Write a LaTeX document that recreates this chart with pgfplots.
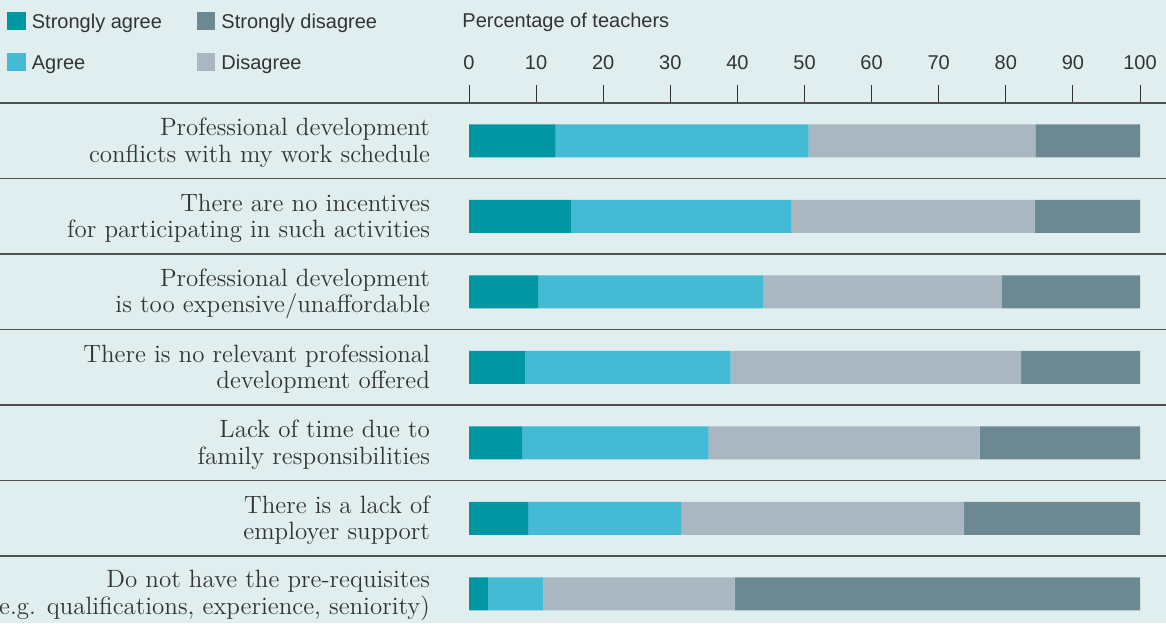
\documentclass[border=0pt]{standalone}
\usepackage{pgfplots}
\pgfplotsset{compat=1.18}
\usepackage{fontspec}
\newfontfamily\sans{Liberation Sans}
\definecolor{bg}{HTML}{E0EEF0}
\definecolor{sa}{HTML}{0097A3}
\definecolor{ag}{HTML}{44BAD4}
\definecolor{di}{HTML}{AAB7C0}
\definecolor{sd}{HTML}{6C8893}
\definecolor{txt}{HTML}{333333}
\definecolor{sep}{HTML}{505050}
\begin{document}
\begin{tikzpicture}
\path[use as bounding box] (0,0) rectangle (583pt,-311.5pt);
\clip (0,0) rectangle (583pt,-311.5pt);
\fill[bg] (0,0) rectangle (583pt,-311.5pt);
\begin{axis}[
  at={(234.5pt,-51.5pt)}, anchor=north west,
  scale only axis, width=335.5pt, height=264.25pt,
  xbar stacked, bar width=16.5pt,
  xmin=0, xmax=100, ymin=0.5, ymax=7.5, y dir=reverse,
  clip=false,
  axis x line*=top, axis y line*=left,
  axis line style={draw=none},
  xtick={0,10,...,100}, tick align=outside, major tick length=9pt,
  x tick style={color=txt, line width=0.5pt},
  ytick={1,...,7}, y tick style={draw=none},
  xticklabel style={font=\sans\fontsize{10}{12}\selectfont, text=txt, yshift=4pt},
  /pgf/number format/assume math mode=true,
  yticklabels={{Professional development\\conflicts with my work schedule},
               {There are no incentives\\for participating in such activities},
               {Professional development\\is too expensive/unaffordable},
               {There is no relevant professional\\development offered},
               {Lack of time due to\\family responsibilities},
               {There is a lack of\\employer support},
               {Do not have the pre-requisites\\(e.g. qualifications, experience, seniority)}},
  yticklabel style={align=right, font=\fontsize{12.5}{13.3}\selectfont, text=txt, xshift=-7pt, yshift=-1pt},
  xlabel={Percentage of teachers},
  xlabel style={at={(axis description cs:-0.0104,1.1438)}, anchor=base west, font=\sans\fontsize{10}{12}\selectfont, text=txt, inner sep=0pt},
  legend columns=2,
  legend style={at={(axis description cs:-0.6885,1.1735)}, anchor=north west, draw=none, fill=none,
    font=\sans\fontsize{10}{12}\selectfont, text=txt, inner sep=0pt, row sep=10.6pt,
    nodes={inner sep=0pt},
    /tikz/every odd column/.append style={column sep=3pt},
    /tikz/every even column/.append style={column sep=17.5pt}},
  legend cell align=left,
  legend image code/.code={\fill[#1, draw=none] (0pt,-3.6pt) rectangle (9.25pt,5.6pt);},
]
\addplot[fill=sa, draw=none, forget plot] coordinates {(12.9,1) (15.2,2) (10.3,3) (8.4,4) (7.9,5) (8.8,6) (2.9,7)};
\addplot[fill=ag, draw=none, forget plot] coordinates {(37.7,1) (32.8,2) (33.5,3) (30.6,4) (27.8,5) (22.8,6) (8.2,7)};
\addplot[fill=di, draw=none, forget plot] coordinates {(33.8,1) (36.3,2) (35.6,3) (43.3,4) (40.4,5) (42.2,6) (28.5,7)};
\addplot[fill=sd, draw=none, forget plot] coordinates {(15.6,1) (15.7,2) (20.6,3) (17.7,4) (23.9,5) (26.2,6) (60.4,7)};
\addlegendimage{fill=sa, draw=none}\addlegendentry{Strongly agree}
\addlegendimage{fill=sd, draw=none}\addlegendentry{Strongly disagree}
\addlegendimage{fill=ag, draw=none}\addlegendentry{Agree}
\addlegendimage{fill=di, draw=none}\addlegendentry{Disagree}
\pgfplotsinvokeforeach{0.5,1.5,2.5,3.5,4.5,5.5,6.5}{
  \draw[sep, line width=0.75pt] (axis cs:-70,#1) -- (axis cs:104,#1);
}
\end{axis}
\end{tikzpicture}
\end{document}
